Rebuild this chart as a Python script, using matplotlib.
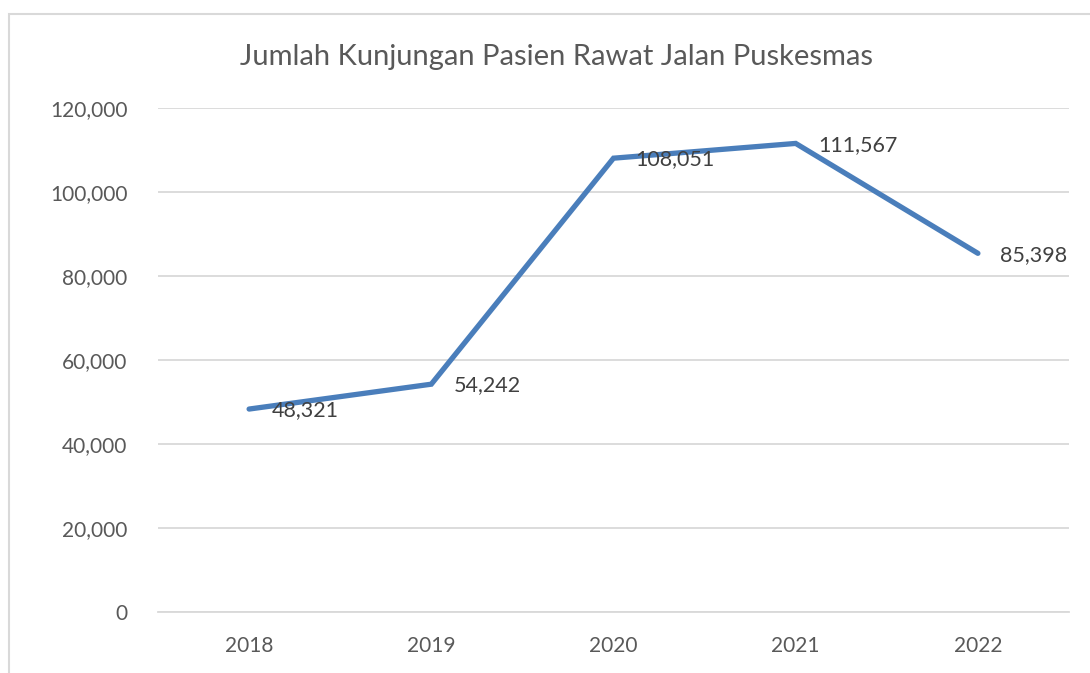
import matplotlib.pyplot as plt
from matplotlib.patches import Rectangle

# chart data
years = ["2018", "2019", "2020", "2021", "2022"]
visits = [48321, 54242, 108051, 111567, 85398]
y_ticks = [0, 20000, 40000, 60000, 80000, 100000, 120000]

plt.rcParams["font.family"] = ["Lato", "DejaVu Sans"]

fig = plt.figure(figsize=(10.9, 6.73), dpi=100)
W, H = 1090, 673
ax = fig.add_axes([158 / W, 1 - 612 / H, (1069 - 158) / W, (612 - 108) / H])

# outer chart border (only top and left visible in the crop)
fig.add_artist(Rectangle((9 / W, -0.05), 1.2, 1 - 14 / H + 0.05,
                         transform=fig.transFigure, fill=False,
                         edgecolor="#d9d9d9", linewidth=1.5))

x = list(range(len(years)))
ax.plot(x, visits, color="#4a7ebb", linewidth=3.8, solid_capstyle="round",
        solid_joinstyle="miter", zorder=3)

for xi, v in zip(x, visits):
    ax.annotate(f"{v:,}", (xi, v), xytext=(16, -1), textcoords="offset points",
                ha="left", va="center", fontsize=15.5, color="#404040", zorder=4)

ax.set_xlim(-0.5, len(years) - 0.5)
ax.set_ylim(0, 120000)
ax.set_yticks(y_ticks)
ax.set_yticklabels([f"{t:,}" for t in y_ticks])
ax.set_xticks(x)
ax.set_xticklabels(years)
ax.yaxis.grid(True, color="#d9d9d9", linewidth=1.3)
ax.set_axisbelow(True)
for s in ["top", "right", "left"]:
    ax.spines[s].set_visible(False)
ax.spines["bottom"].set_color("#d9d9d9")
ax.spines["bottom"].set_linewidth(1.3)
ax.tick_params(axis="both", length=0, labelsize=15, labelcolor="#595959")
ax.tick_params(axis="y", pad=22)
ax.tick_params(axis="x", pad=17)

fig.text(556 / W, 1 - 57 / H, "Jumlah Kunjungan Pasien Rawat Jalan Puskesmas",
         ha="center", va="center", fontsize=21, color="#595959")

fig.savefig("out.png", dpi=100, facecolor="white")
